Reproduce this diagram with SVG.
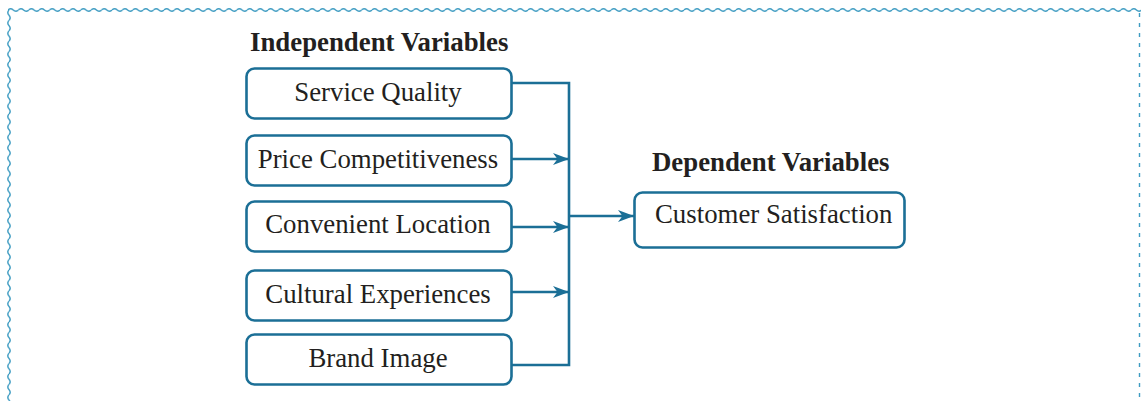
<svg xmlns="http://www.w3.org/2000/svg" width="1141" height="401" viewBox="0 0 1141 401">
  <defs>
    <style>
      .box { fill: #ffffff; stroke: #1b6f96; stroke-width: 2.6; }
      .lbl { font-family: "Liberation Serif", "Times New Roman", serif; font-size: 26.8px; fill: #231f20; }
      .ttl { font-family: "Liberation Serif", "Times New Roman", serif; font-size: 26.8px; font-weight: bold; fill: #231f20; }
      .conn { fill: none; stroke: #1b6f96; stroke-width: 2.6; }
      .wave { fill: none; stroke: #3f9cc2; stroke-width: 1.4; }
    </style>
    <pattern id="waveH" patternUnits="userSpaceOnUse" x="8" y="7" width="10.4" height="6">
      <path class="wave" d="M0,3 Q2.6,0.6 5.2,3 T10.4,3"/>
    </pattern>
    <pattern id="waveV" patternUnits="userSpaceOnUse" x="6" y="10" width="6" height="10.4">
      <path class="wave" d="M3,0 Q0.6,2.6 3,5.2 T3,10.4"/>
    </pattern>
    <marker id="arr" markerUnits="userSpaceOnUse" markerWidth="18" markerHeight="14" refX="16" refY="7" orient="auto">
      <path d="M0,1 L16,7 L0,13 L4.5,7 z" fill="#1b6f96"/>
    </marker>
  </defs>

  <g id="frame">
    <rect x="8" y="7" width="1133" height="6" fill="url(#waveH)"/>
    <rect x="6" y="10" width="6" height="391" fill="url(#waveV)"/>
    <line x1="1139.5" y1="13" x2="1139.5" y2="401" stroke="#3f9cc2" stroke-width="1.4" stroke-dasharray="4 6"/>
  </g>

  <g id="title-independent">
    <text class="ttl" x="250" y="51">Independent Variables</text>
  </g>
  <g id="title-dependent">
    <text class="ttl" x="652" y="171">Dependent Variables</text>
  </g>

  <g id="connectors">
    <polyline class="conn" points="511,83 569,83 569,365 511,365"/>
    <line class="conn" x1="511" y1="159" x2="569" y2="159" marker-end="url(#arr)"/>
    <line class="conn" x1="511" y1="227" x2="569" y2="227" marker-end="url(#arr)"/>
    <line class="conn" x1="511" y1="292" x2="569" y2="292" marker-end="url(#arr)"/>
    <line class="conn" x1="569" y1="216" x2="634" y2="216" marker-end="url(#arr)"/>
  </g>

  <g id="node-service-quality">
    <rect class="box" x="246.5" y="68.5" width="265" height="50" rx="8"/>
    <text class="lbl" x="378" y="101" text-anchor="middle">Service Quality</text>
  </g>
  <g id="node-price-competitiveness">
    <rect class="box" x="246.5" y="135.5" width="265" height="50" rx="8"/>
    <text class="lbl" x="378" y="168" text-anchor="middle">Price Competitiveness</text>
  </g>
  <g id="node-convenient-location">
    <rect class="box" x="246.5" y="201.5" width="265" height="50" rx="8"/>
    <text class="lbl" x="378" y="233" text-anchor="middle">Convenient Location</text>
  </g>
  <g id="node-cultural-experiences">
    <rect class="box" x="246.5" y="270.5" width="265" height="50" rx="8"/>
    <text class="lbl" x="378" y="303" text-anchor="middle">Cultural Experiences</text>
  </g>
  <g id="node-brand-image">
    <rect class="box" x="246.5" y="334.5" width="265" height="50" rx="8"/>
    <text class="lbl" x="378" y="367" text-anchor="middle">Brand Image</text>
  </g>
  <g id="node-customer-satisfaction">
    <rect class="box" x="634.5" y="192.5" width="270" height="55" rx="8"/>
    <text class="lbl" x="655" y="223">Customer Satisfaction</text>
  </g>
</svg>
